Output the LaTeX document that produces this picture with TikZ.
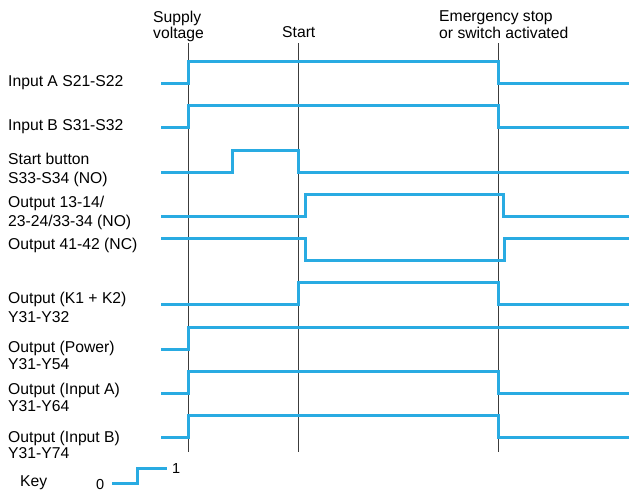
\documentclass[tikz,border=0pt]{standalone}
\usepackage{fontspec}
\setmainfont{Liberation Sans}
\definecolor{sigblue}{RGB}{41,171,226}
\definecolor{vgrey}{RGB}{60,60,60}
\begin{document}
\begin{tikzpicture}[x=1pt,y=-1pt,
  lbl/.style={anchor=base west,inner sep=0pt,align=left,font=\fontsize{15.7}{17}\selectfont},
  sig/.style={draw=sigblue,line width=3pt,line join=miter},
  tline/.style={draw=vgrey,line width=0.9pt}]
\useasboundingbox (0,0) rectangle (629,491);
% time markers
\draw[tline] (188,43) -- (188,452);
\draw[tline] (298,43) -- (298,452);
\draw[tline] (498,43) -- (498,452);
% headings (anchor = baseline of last line)
\node[lbl] (hS) at (153,38) {Supply\\[-1pt]voltage};
\node[lbl] (hT) at (282,37) {Start};
\node[lbl] (hE) at (439,38) {Emergency stop\\or switch activated};
% labels
\node[lbl] (l1) at (8,86) {Input A S21-S22};
\node[lbl] (l2) at (8,130) {Input B S31-S32};
\node[lbl] (l3) at (8,183) {Start button\\[2pt]S33-S34 (NO)};
\node[lbl] (l4) at (8,226) {Output 13-14/\\[2pt]23-24/33-34 (NO)};
\node[lbl] (l5) at (8,249) {Output 41-42 (NC)};
\node[lbl] (l6) at (8,322) {Output (K1 + K2)\\[2pt]Y31-Y32};
\node[lbl] (l7) at (8,369) {Output (Power)\\Y31-Y54};
\node[lbl] (l8) at (8,411) {Output (Input A)\\Y31-Y64};
\node[lbl] (l9) at (8,458) {Output (Input B)\\[-1pt]Y31-Y74};
\node[lbl] (lk) at (20,486) {Key};
% signals
\draw[sig] (161,83) -- (188,83) -- (188,61) -- (498,61) -- (498,83) -- (629,83);
\draw[sig] (161,127) -- (188,127) -- (188,105) -- (498,105) -- (498,127) -- (629,127);
\draw[sig] (161,172) -- (232,172) -- (232,150) -- (298,150) -- (298,172) -- (629,172);
\draw[sig] (161,216) -- (305,216) -- (305,194) -- (503,194) -- (503,216) -- (629,216);
\draw[sig] (161,238) -- (305,238) -- (305,260) -- (504,260) -- (504,238) -- (629,238);
\draw[sig] (161,304) -- (298,304) -- (298,282) -- (498,282) -- (498,304) -- (629,304);
\draw[sig] (161,349) -- (188,349) -- (188,327) -- (629,327);
\draw[sig] (161,393) -- (188,393) -- (188,371) -- (498,371) -- (498,393) -- (629,393);
\draw[sig] (161,437) -- (188,437) -- (188,415) -- (498,415) -- (498,437) -- (629,437);
% key
\draw[sig] (112,483) -- (137,483) -- (137,468) -- (167,468);
\node[lbl,font=\fontsize{14.5}{16}\selectfont] (k0) at (96,489) {0};
\node[lbl,font=\fontsize{14.5}{16}\selectfont] (k1) at (172,473) {1};
\end{tikzpicture}
\end{document}
